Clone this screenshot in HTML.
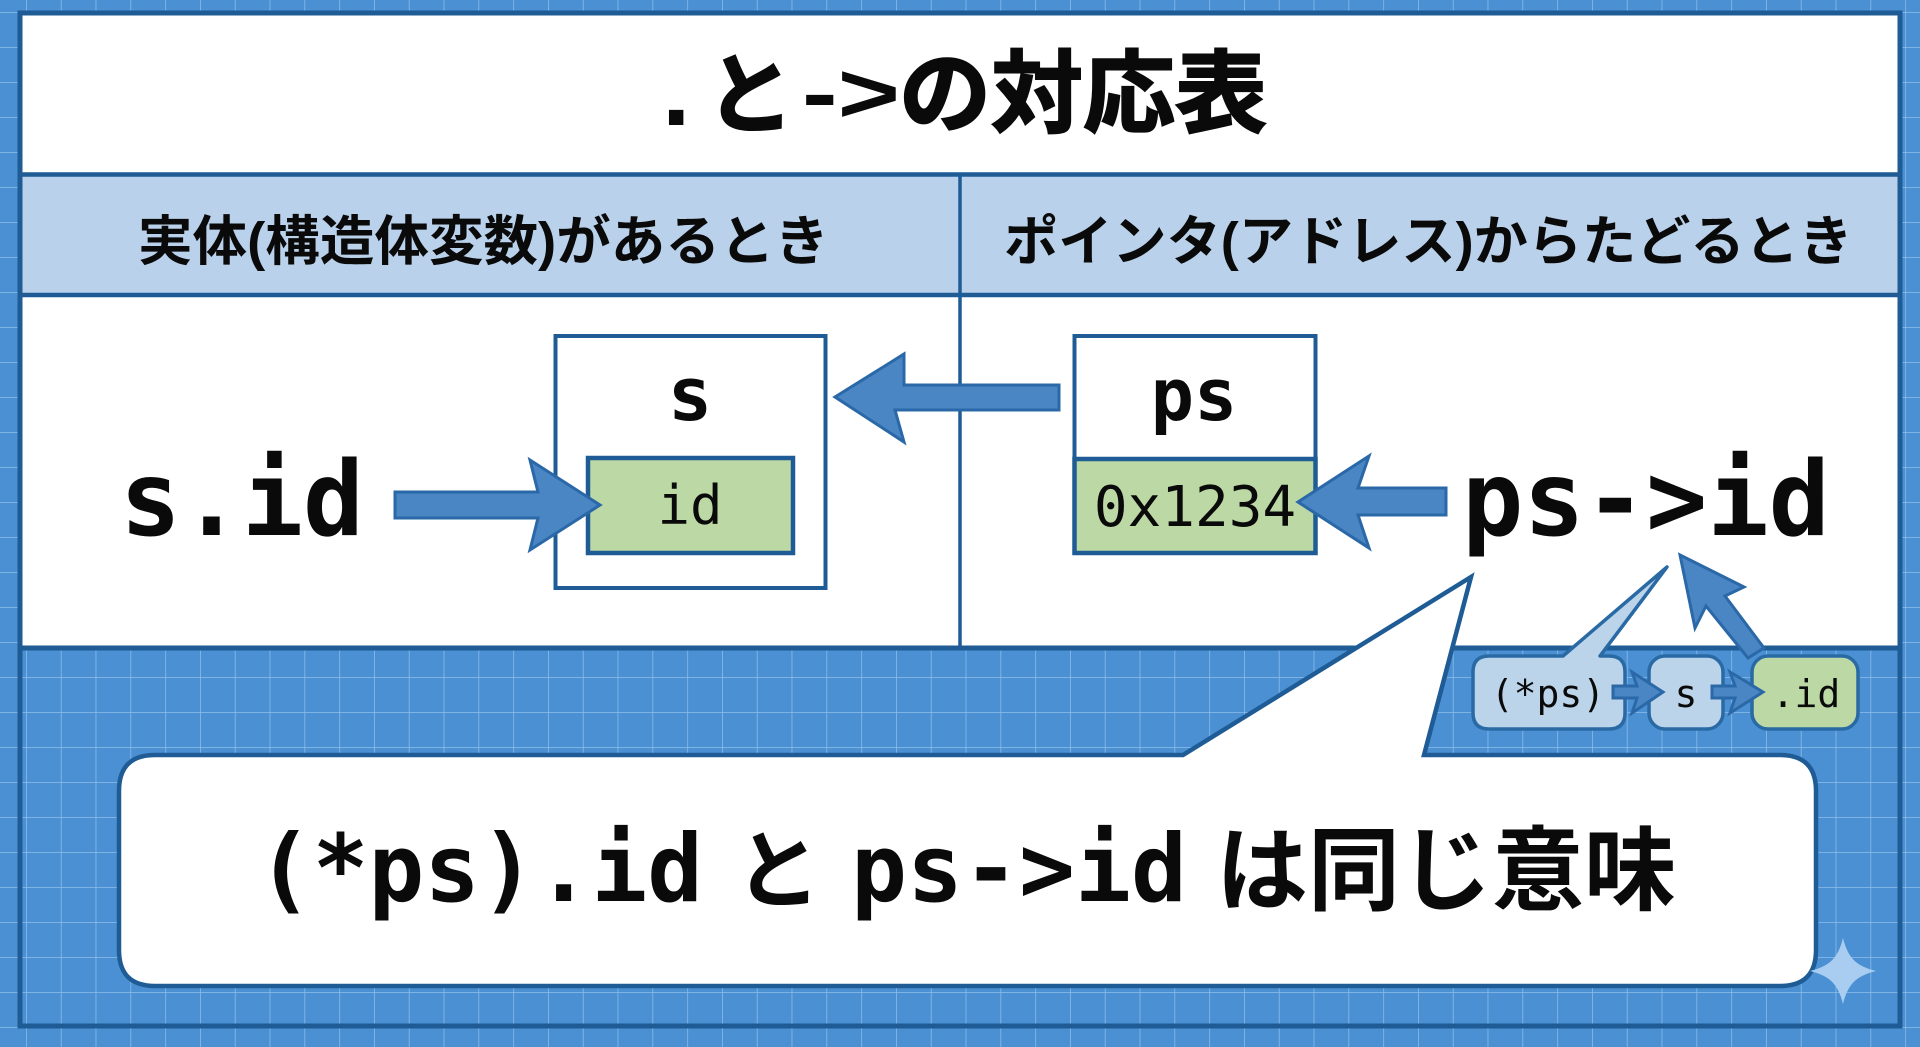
<!DOCTYPE html>
<html lang="ja">
<head>
<meta charset="utf-8">
<title>.と->の対応表</title>
<style>
html,body{margin:0;padding:0;width:1920px;height:1047px;overflow:hidden;background:#4a90d3}
svg{display:block;position:absolute;left:0;top:0}
.jp{font-family:"Liberation Sans","Noto Sans CJK JP",sans-serif;font-weight:700;fill:#0a0a0a}
.m{font-family:"DejaVu Sans Mono","Liberation Mono",monospace;fill:#0a0a0a}
.b{font-weight:700}
.a{fill:#4a86c4;stroke:#2a68a8;stroke-width:3;stroke-linejoin:miter}
</style>
</head>
<body>
<svg width="1920" height="1047" viewBox="0 0 1920 1047" xmlns="http://www.w3.org/2000/svg">
<defs>
<pattern id="g" x="26" y="12" width="34.8" height="35" patternUnits="userSpaceOnUse">
<path d="M0 0V35M0 0H34.8" fill="none" stroke="#8fbeeb" stroke-width="1.5"/>
</pattern>
</defs>
<rect width="1920" height="1047" fill="#4a90d3"/>
<rect width="1920" height="1047" fill="url(#g)"/>

<!-- panels -->
<rect x="20" y="13" width="1880" height="635" fill="#fff"/>
<rect x="20" y="176" width="1880" height="119" fill="#b9d1ea"/>
<rect x="20" y="13" width="1880" height="1013" fill="none" stroke="#1f5c96" stroke-width="5"/>
<path d="M20 174.500H1900M20 295H1900" stroke="#1f5c96" stroke-width="4.500" fill="none"/>
<path d="M20 648H1900" stroke="#1f5c96" stroke-width="5" fill="none"/>
<path d="M960 175V648" stroke="#1f5c96" stroke-width="3.500" fill="none"/>

<!-- title -->
<text class="jp" x="664" y="124" font-size="88" stroke="#0a0a0a" stroke-width="2">.</text>
<text class="jp" x="706" y="126" font-size="88" stroke="#0a0a0a" stroke-width="2">と</text>
<text class="jp" x="802" y="122" font-size="84" textLength="98" lengthAdjust="spacingAndGlyphs">-&gt;</text>
<text class="jp" x="899" y="125" font-size="90" textLength="368" lengthAdjust="spacingAndGlyphs" stroke="#0a0a0a" stroke-width="2">の対応表</text>

<!-- headers -->
<text class="jp" x="138" y="260" font-size="54" textLength="691" lengthAdjust="spacingAndGlyphs">実体(構造体変数)があるとき</text>
<text class="jp" x="1004" y="260" font-size="54" textLength="849" lengthAdjust="spacingAndGlyphs">ポインタ(アドレス)からたどるとき</text>

<!-- s box -->
<rect x="555.500" y="336" width="270" height="252" fill="#fff" stroke="#1f5c96" stroke-width="4"/>
<rect x="588" y="458" width="205" height="95" fill="#bcd8a4" stroke="#1f5c96" stroke-width="4.500"/>
<text class="m b" x="690" y="420" font-size="74" text-anchor="middle">s</text>
<text class="m" x="690" y="524" font-size="54" text-anchor="middle">id</text>

<!-- ps box -->
<rect x="1074.500" y="336" width="241" height="217" fill="#fff" stroke="#1f5c96" stroke-width="4"/>
<rect x="1074.500" y="459" width="241" height="94" fill="#bcd8a4" stroke="#1f5c96" stroke-width="4.500"/>
<text class="m b" x="1194" y="420" font-size="72" text-anchor="middle">ps</text>
<text class="m" x="1195" y="526" font-size="56" text-anchor="middle">0x1234</text>

<!-- big code -->
<text class="m b" x="120" y="535" font-size="103" textLength="244" lengthAdjust="spacingAndGlyphs">s.id</text>
<text class="m b" x="1462" y="535" font-size="103" textLength="368" lengthAdjust="spacingAndGlyphs">ps-&gt;id</text>

<!-- arrows -->
<polygon class="a" points="395,492 538,492 530,460 600,505 530,550 538,518 395,518"/>
<polygon class="a" points="1059,385 904,385 904,354 835,397 904,442 895,410 1059,410"/>
<polygon class="a" points="1446,488 1358,488 1369,456 1298,502 1369,548 1358,515 1446,515"/>
<polygon class="a" points="1680,555 1744,587 1725,596 1764,648 1748,658 1706,606 1695,628"/>

<!-- chips -->
<path d="M1489 656H1563L1667 567L1600 656H1609Q1625 656 1625 672V713Q1625 729 1609 729H1489Q1473 729 1473 713V672Q1473 656 1489 656Z" fill="#bcd4ea" stroke="#2a6aa4" stroke-width="3.500" stroke-linejoin="round"/>
<rect x="1649" y="656" width="74" height="73" rx="16" fill="#bcd4ea" stroke="#2a6aa4" stroke-width="3.500"/>
<rect x="1752" y="656" width="106" height="73" rx="16" fill="#bcd8a4" stroke="#2a6aa4" stroke-width="3.500"/>
<text class="m" x="1548" y="707" font-size="38" text-anchor="middle">(*ps)</text>
<text class="m" x="1686" y="707" font-size="38" text-anchor="middle">s</text>
<text class="m" x="1806" y="707" font-size="38" text-anchor="middle">.id</text>
<polygon class="a" points="1613,686 1637,686 1632,672 1663,692 1632,713 1637,698 1613,698"/>
<polygon class="a" points="1712,686 1735,686 1730,672 1763,692 1730,713 1735,698 1712,698"/>

<!-- bubble -->
<path d="M155 755H1183L1471 577L1424 755H1780Q1816 755 1816 791V950Q1816 986 1780 986H155Q119 986 119 950V791Q119 755 155 755Z" fill="#fff" stroke="#1f5c96" stroke-width="4.500" stroke-linejoin="miter"/>
<text class="m b" x="257" y="901" font-size="94" textLength="446" lengthAdjust="spacingAndGlyphs">(*ps).id</text>
<text class="jp" x="735" y="901" font-size="86">と</text>
<text class="m b" x="851" y="901" font-size="94" textLength="336" lengthAdjust="spacingAndGlyphs">ps-&gt;id</text>
<text class="jp" x="1216" y="903" font-size="92" textLength="460" lengthAdjust="spacingAndGlyphs">は同じ意味</text>

<!-- sparkle -->
<path d="M1843 938C1848 958 1856 966 1876 971C1856 976 1848 984 1843 1004C1838 984 1830 976 1810 971C1830 966 1838 958 1843 938Z" fill="#a9cdf0"/>
</svg>
</body>
</html>
